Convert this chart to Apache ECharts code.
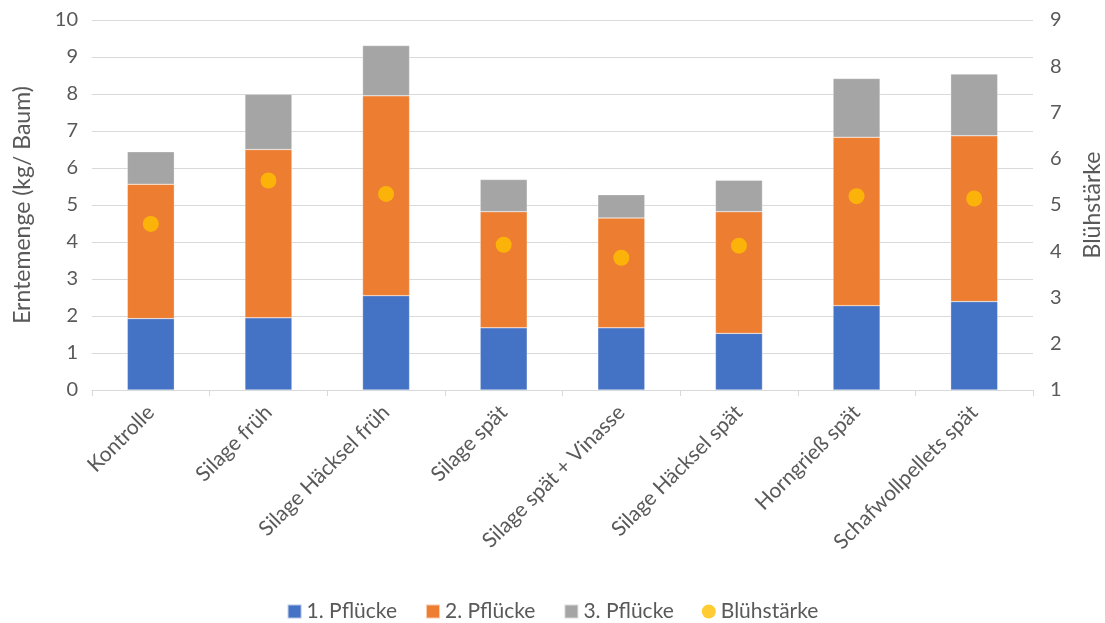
<!DOCTYPE html>
<html><head><meta charset="utf-8">
<script src="https://cdn.jsdelivr.net/npm/echarts@6/dist/echarts.min.js"></script>
<style>html,body{margin:0;padding:0;background:#fff}#c{width:1105px;height:623px}</style>
</head><body><div id="c"></div>
<script>
const categories = ["Kontrolle","Silage früh","Silage Häcksel früh","Silage spät","Silage spät + Vinasse","Silage Häcksel spät","Horngrieß spät","Schafwollpellets spät"];
const pfluecke1 = [1.93, 1.95, 2.55, 1.68, 1.68, 1.53, 2.28, 2.39];
const pfluecke2 = [3.63, 4.55, 5.40, 3.14, 2.97, 3.29, 4.55, 4.48];
const pfluecke3 = [0.88, 1.49, 1.36, 0.87, 0.63, 0.85, 1.59, 1.67];
const bluehstaerke = [4.59, 5.53, 5.24, 4.14, 3.86, 4.12, 5.19, 5.14];

const font = "Lato, 'Open Sans', sans-serif";
const txt = '#595959';
const chart = echarts.init(document.getElementById('c'));
const barStyle = c => ({color: c, borderColor: 'rgba(255,255,255,0.6)', borderWidth: 0.5});
chart.setOption({
  animation: false,
  textStyle: {fontFamily: font},
  grid: {left: 92, right: 72, top: 20, bottom: 233, outerBoundsMode: 'none', containLabel: false},
  legend: {
    top: 596, left: 'center', itemWidth: 14, itemHeight: 14, itemGap: 28,
    textStyle: {fontFamily: font, fontSize: 21, color: txt},
    data: [
      {name: '1. Pflücke', icon: 'rect'},
      {name: '2. Pflücke', icon: 'rect'},
      {name: '3. Pflücke', icon: 'rect'},
      {name: 'Blühstärke', icon: 'circle'}
    ]
  },
  xAxis: {
    type: 'category', data: categories,
    axisLine: {lineStyle: {color: '#d9d9d9'}},
    axisTick: {show: true, alignWithLabel: false, length: 6, lineStyle: {color: '#d9d9d9'}},
    axisLabel: {rotate: 45, color: txt, fontSize: 21, fontFamily: font, margin: 19, interval: 0}
  },
  yAxis: [
    {type: 'value', min: 0, max: 10, interval: 1,
     name: 'Erntemenge (kg/ Baum)', nameLocation: 'middle', nameGap: 58, nameRotate: 90,
     nameTextStyle: {fontSize: 23, color: txt, fontFamily: font},
     axisLabel: {color: txt, fontSize: 20, fontFamily: font, margin: 14},
     splitLine: {lineStyle: {color: '#d9d9d9', width: 1}},
     axisLine: {show: false}, axisTick: {show: false}},
    {type: 'value', min: 1, max: 9, interval: 1, position: 'right',
     name: 'Blühstärke', nameLocation: 'middle', nameGap: 48, nameRotate: 90,
     nameTextStyle: {fontSize: 23, color: txt, fontFamily: font},
     axisLabel: {color: txt, fontSize: 20, fontFamily: font, margin: 17},
     splitLine: {show: false}, axisLine: {show: false}, axisTick: {show: false}}
  ],
  series: [
    {name: '1. Pflücke', type: 'bar', stack: 'e', data: pfluecke1, barWidth: 47, itemStyle: barStyle('#4472c4')},
    {name: '2. Pflücke', type: 'bar', stack: 'e', data: pfluecke2, barWidth: 47, itemStyle: barStyle('#ed7d31')},
    {name: '3. Pflücke', type: 'bar', stack: 'e', data: pfluecke3, barWidth: 47, itemStyle: barStyle('#a5a5a5')},
    {name: 'Blühstärke', type: 'scatter', yAxisIndex: 1, data: bluehstaerke, symbolSize: 16, itemStyle: {color: '#ffc000'}}
  ]
});
</script></body></html>
